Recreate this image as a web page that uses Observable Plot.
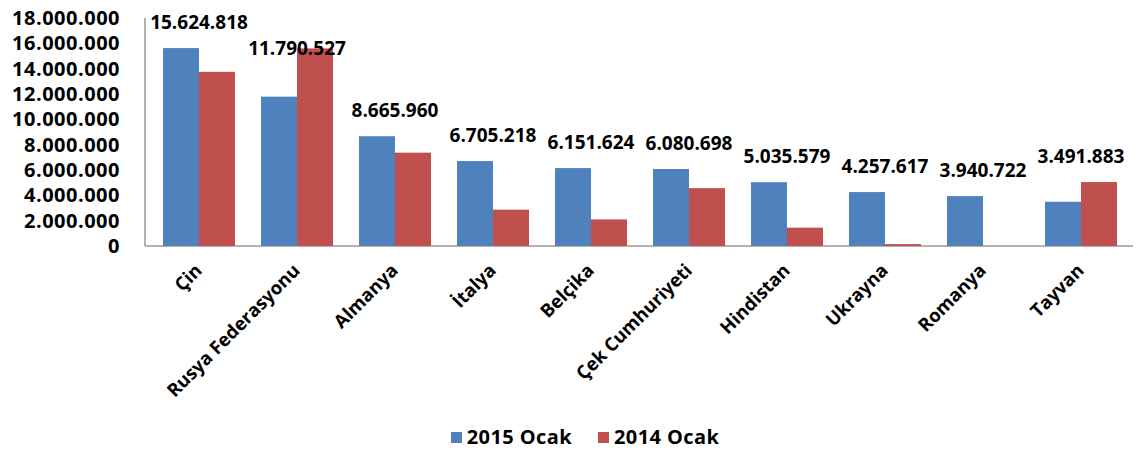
<!DOCTYPE html>
<html>
<head>
<meta charset="utf-8">
<script src="https://cdn.jsdelivr.net/npm/d3@7"></script>
<script src="https://cdn.jsdelivr.net/npm/@observablehq/plot@0.6"></script>
<style>
  html, body { margin: 0; padding: 0; background: #fff; }
  #chart { width: 1136px; height: 450px; position: relative; font-family: "Open Sans", sans-serif; }
  .legend { display: flex; justify-content: center; gap: 26px; padding-left: 34px; margin-top: 6px;
            font: bold 20px "Open Sans", sans-serif; letter-spacing: 0.4px; color: #000; line-height: 22px; }
  .legend span { display: inline-flex; align-items: center; }
  .legend i { display: inline-block; width: 11px; height: 11px; margin-right: 5px; }
</style>
</head>
<body>
<div id="chart"></div>
<script>
// Countries and monthly values (January 2015 vs January 2014)
const countries = ["Çin", "Rusya Federasyonu", "Almanya", "İtalya", "Belçika",
                   "Çek Cumhuriyeti", "Hindistan", "Ukrayna", "Romanya", "Tayvan"];
const ocak2015 = [15624818, 11790527, 8665960, 6705218, 6151624,
                  6080698, 5035579, 4257617, 3940722, 3491883];
const ocak2014 = [13750000, 15600000, 7370000, 2870000, 2100000,
                  4570000, 1450000, 150000, 0, 5050000];
const seriesNames = ["2015 Ocak", "2014 Ocak"];
const seriesColors = ["#4F81BD", "#C0504D"];
const yTickValues = [0, 2000000, 4000000, 6000000, 8000000, 10000000,
                     12000000, 14000000, 16000000, 18000000];

const tr = d3.formatLocale({decimal: ",", thousands: ".", grouping: [3], currency: ["", " ₺"]});
const fmt = tr.format(",d");

const rows = [];
countries.forEach((c, i) => {
  rows.push({country: c, series: seriesNames[0], value: ocak2015[i]});
  rows.push({country: c, series: seriesNames[1], value: ocak2014[i]});
});
const groups = countries.map((c, i) => ({
  country: c, label: ocak2015[i], top: Math.max(ocak2015[i], ocak2014[i])
}));

const font = {fontFamily: "Open Sans", fontWeight: "bold"};

const chart = Plot.plot({
  width: 1136,
  height: 420,
  marginTop: 18,
  marginLeft: 145,
  marginRight: 3,
  marginBottom: 174,
  style: {fontFamily: "Open Sans", fontWeight: "bold", color: "#000", background: "#fff"},
  fx: {domain: countries, paddingInner: 0.26, paddingOuter: 0.13, label: null},
  x: {domain: seriesNames, padding: 0, axis: null},
  y: {domain: [0, 18000000], label: null},
  color: {domain: seriesNames, range: seriesColors},
  marks: [
    Plot.barY(rows, {fx: "country", x: "series", y: "value", fill: "series"}),
    Plot.text(groups, {fx: "country", y: "top", text: d => fmt(d.label), dy: -26,
      fontSize: 19, ...font, fill: "#000", className: "value-label"}),
    Plot.axisY({ticks: yTickValues, tickFormat: fmt, tickSize: 0, tickPadding: 25,
      fontSize: 20, label: null}),
    Plot.axisFx({anchor: "bottom", tickRotate: -45, tickSize: 0, tickPadding: 21,
      fontSize: 18.5, label: null})
  ]
});

// Axis lines across the whole plot area, from the chart's own scales
const svg = d3.select(chart);
const fxRange = chart.scale("fx").range;
const yScale = chart.scale("y");
const y0 = yScale.apply(0), yTop = yScale.apply(18000000);
const lines = svg.insert("g", ":first-child").attr("stroke", "#9a9a9a").attr("stroke-width", 1.5);
lines.append("line").attr("x1", fxRange[0]).attr("x2", fxRange[1]).attr("y1", y0).attr("y2", y0);
lines.append("line").attr("x1", fxRange[0]).attr("x2", fxRange[0]).attr("y1", yTop).attr("y2", y0);

const root = document.getElementById("chart");
root.appendChild(chart);

// Y tick labels: right-align them a fixed gap left of the axis line
const yLabelGroup = svg.selectAll("g[aria-label='y-axis tick label']");
yLabelGroup.selectAll("text").style("letter-spacing", "0.5px");
yLabelGroup.each(function () {
  const right = d3.max(Array.from(this.querySelectorAll("text")), t => t.getBoundingClientRect().right);
  const left = chart.getBoundingClientRect().left;
  const shift = (fxRange[0] - 25) - (right - left);
  const t = this.getAttribute("transform");
  this.setAttribute("transform", (t ? t + " " : "") + `translate(${shift},0)`);
});

// Value labels: push a label down when it would run into its left neighbour
let prev = null;
svg.selectAll(".value-label text").each(function () {
  let box = this.getBoundingClientRect();
  if (prev && box.left < prev.right + 4 && box.top < prev.bottom) {
    const shift = prev.bottom - box.top;
    const t = this.getAttribute("transform");
    this.setAttribute("transform", (t ? t + " " : "") + `translate(0,${shift})`);
    box = this.getBoundingClientRect();
  }
  prev = box;
});

const legend = document.createElement("div");
legend.className = "legend";
seriesNames.forEach((name, i) => {
  const item = document.createElement("span");
  const sw = document.createElement("i");
  sw.style.background = seriesColors[i];
  item.appendChild(sw);
  item.appendChild(document.createTextNode(name));
  legend.appendChild(item);
});
root.appendChild(legend);
</script>
</body>
</html>
